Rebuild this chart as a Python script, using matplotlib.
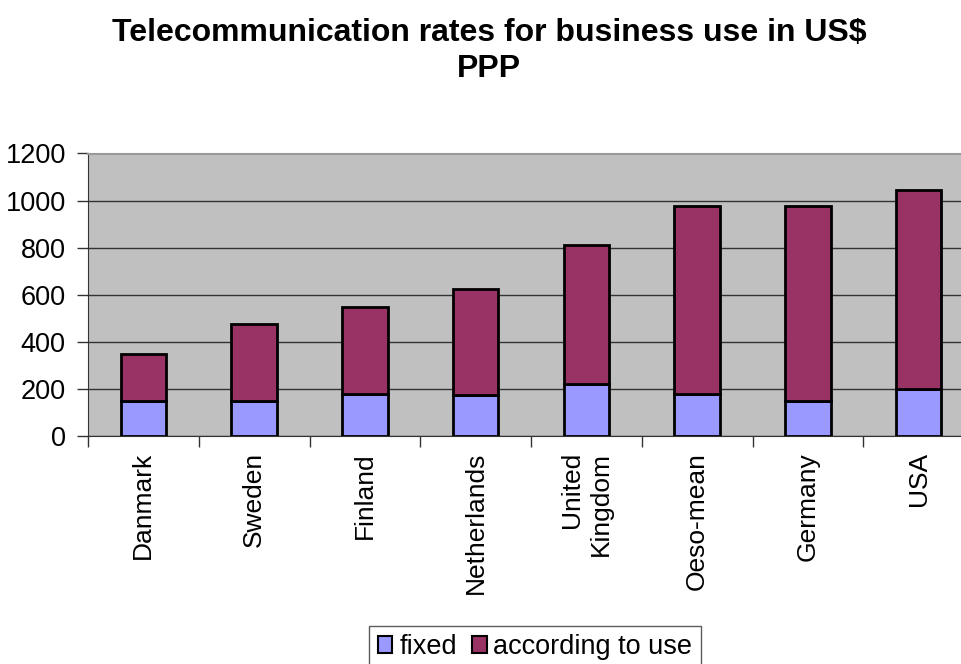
import matplotlib
matplotlib.use("Agg")
import matplotlib.pyplot as plt
from matplotlib.patches import Patch
import numpy as np

plt.rcParams['font.family'] = ['Liberation Sans', 'DejaVu Sans']

countries = ["Danmark", "Sweden", "Finland", "Netherlands", "United\nKingdom",
             "Oeso-mean", "Germany", "USA"]
fixed = [150, 150, 180, 175, 220, 180, 150, 200]
according_to_use = [200, 325, 370, 450, 590, 795, 825, 845]

c_fixed = "#9999FF"
c_use = "#993366"

W, H = 962, 664
fig = plt.figure(figsize=(W / 100, H / 100), dpi=100)
left, right, top, bottom = 88, 974, 153.5, 436
ax = fig.add_axes([left / W, 1 - bottom / H, (right - left) / W, (bottom - top) / H])
ax.set_facecolor("#C0C0C0")

x = np.arange(len(countries))
bw = 0.41
ax.bar(x, fixed, bw, color=c_fixed, edgecolor="black", linewidth=2.0, zorder=3)
ax.bar(x, according_to_use, bw, bottom=fixed, color=c_use, edgecolor="black",
       linewidth=2.0, zorder=3)

ax.set_xlim(-0.5, len(countries) - 0.5)
ax.set_ylim(0, 1200)
ax.set_yticks(range(0, 1201, 200))
ax.yaxis.grid(True, color="#333333", linewidth=1.0, zorder=1)
ax.set_axisbelow(True)

ax.set_xticks(x)
ax.set_xticklabels(countries, rotation=90, fontsize=19, va="top", ha="center",
                   multialignment="right", linespacing=1.25)
ax.tick_params(axis="x", length=0, pad=11.5)
ax.set_xticks(np.arange(-0.5, len(countries)), minor=True)
ax.tick_params(axis="x", which="minor", length=8, width=1.0, color="#333333",
               direction="out")
ax.tick_params(axis="y", labelsize=19.5, length=8, width=1.0, color="#333333",
               direction="out", pad=8)

ax.spines["right"].set_visible(False)
ax.spines["top"].set_color("#999999")
ax.spines["top"].set_linewidth(1.5)
ax.spines["left"].set_color("#333333")
ax.spines["bottom"].set_color("#333333")

fig.text(489 / W, 1 - 51 / H, "Telecommunication rates for business use in US$\nPPP",
         ha="center", va="center", fontsize=23, fontweight="bold", linespacing=1.3)

handles = [Patch(facecolor=c_fixed, edgecolor="black", linewidth=1.5, label="fixed"),
           Patch(facecolor=c_use, edgecolor="black", linewidth=1.5, label="according to use")]
leg = fig.legend(handles=handles, loc="upper center", bbox_to_anchor=(535 / W, 1 - 626 / H),
                 ncol=2, fontsize=19.5, frameon=True, fancybox=False, edgecolor="#333333",
                 handlelength=0.55, handleheight=0.55, handletextpad=0.25,
                 columnspacing=0.55, borderpad=0.3, borderaxespad=0)
leg.get_frame().set_linewidth(1.0)

fig.savefig("out.png", dpi=100)
